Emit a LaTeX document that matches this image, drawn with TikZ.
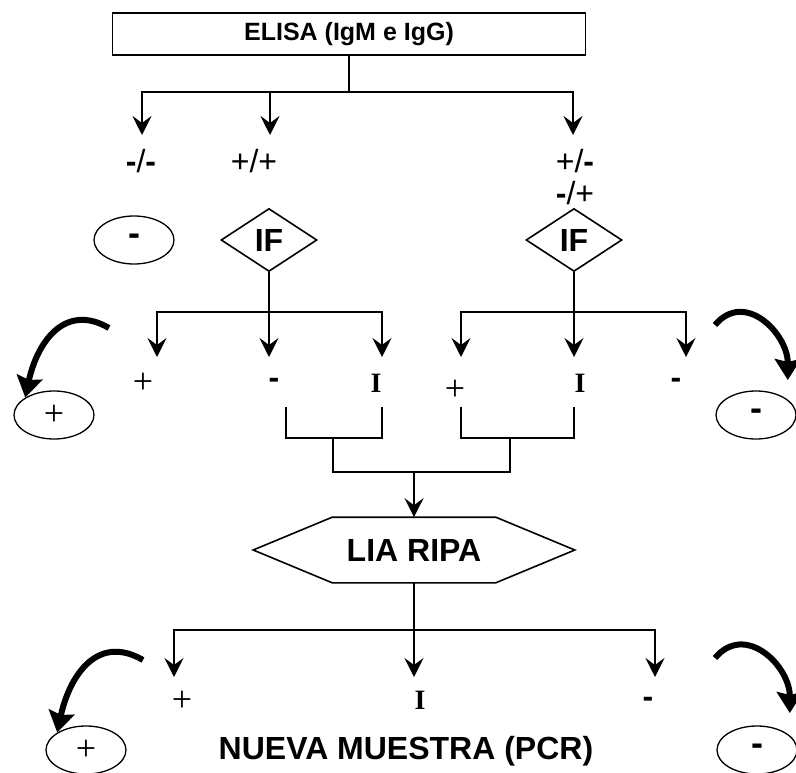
\documentclass[tikz,border=0pt]{standalone}
\usepackage{fontspec}
\setmainfont{Liberation Sans}
\newfontfamily\tnr{Liberation Serif}
\usetikzlibrary{arrows.meta,shapes.geometric}

\begin{document}
\begin{tikzpicture}[x=1pt,y=1pt,>={Stealth[length=19pt,width=19pt,inset=7pt]},
                    line width=1.6pt,
    box/.style={rectangle,draw,minimum width=473pt,minimum height=42pt,
                font=\fontsize{25}{25}\selectfont\bfseries},
    test/.style={diamond,draw,aspect=1.5,minimum width=96pt,minimum height=63pt,
                 inner sep=0pt,font=\fontsize{32}{32}\selectfont\bfseries},
    res/.style={ellipse,draw,line width=1.3pt,minimum width=80pt,minimum height=48pt,
                inner sep=0pt,font=\tnr\fontsize{36}{36}\selectfont},
    sero/.style={font=\fontsize{32}{32}\selectfont,align=center,inner sep=0pt},
    val/.style={font=\tnr\fontsize{28}{28}\selectfont,inner sep=0pt},
    pls/.style={font=\tnr\fontsize{36}{36}\selectfont,inner sep=0pt},
    mns/.style={font=\fontsize{32}{32}\selectfont\bfseries,inner sep=0pt},
    big/.style={font=\fontsize{32}{32}\selectfont\bfseries,inner sep=0pt},
    bigarrow/.style={line width=6pt,-{Stealth[length=21pt,width=26pt,inset=3pt]}}]
  \useasboundingbox (0,0) rectangle (796,-773);

  % ELISA and serology
  \node[box] (elisa) at (349,-34) {ELISA (IgM e IgG)};
  \node[sero] (mm) at (141,-161) {\textbf{-}/\textbf{-}};
  \node[sero] (pp) at (254,-161) {+/+};
  \node[sero] (pm) at (575,-177) {+/\textbf{-}\\\textbf{-}/+};
  \node[res] (neg1) at (134,-240) {\textbf{\rmfamily -}};
  \node[test] (if1) at (269,-240) {IF};
  \node[test] (if2) at (574,-240) {IF};

  \coordinate (j1) at (349,-92);
  \coordinate (t1) at (142,-135);
  \coordinate (t2) at (270,-135);
  \coordinate (t3) at (573,-135);
  \draw (elisa.south) -- (j1);
  \draw[->] (j1) -| (t1);
  \draw[->] (j1) -| (t2);
  \draw[->] (j1) -| (t3);

  % IF results
  \node[pls] (p1) at (143,-383) {+};
  \node[mns] (n1) at (274,-383) {-};
  \node[val] (i1) at (376,-383) {\textbf{I}};
  \node[pls] (p2) at (455,-390) {+};
  \node[val] (i2) at (580,-383) {\textbf{I}};
  \node[mns] (n2) at (676,-383) {-};
  \node[res] (pos1) at (54,-415) {+};
  \node[res] (neg2) at (756,-415) {\textbf{\rmfamily -}};

  \coordinate (j2) at (269,-312);
  \coordinate (j3) at (574,-312);
  \coordinate (t4) at (157,-357);
  \coordinate (t5) at (269,-357);
  \coordinate (t6) at (382,-357);
  \coordinate (t7) at (461,-357);
  \coordinate (t8) at (574,-357);
  \coordinate (t9) at (686,-357);
  \draw (if1.south) -- (j2);
  \draw[->] (j2) -| (t4);
  \draw[->] (j2) -- (t5);
  \draw[->] (j2) -| (t6);
  \draw (if2.south) -- (j3);
  \draw[->] (j3) -| (t7);
  \draw[->] (j3) -- (t8);
  \draw[->] (j3) -| (t9);

  \coordinate (c1) at (109,-328);
  \coordinate (c2) at (715,-325);
  \draw[bigarrow] (c1) to[out=150,in=78,looseness=1.25] (pos1.north west);
  \draw[bigarrow] (c2) to[out=50,in=90,looseness=1.3] ([shift={(8pt,15pt)}]neg2.40);

  % indeterminate ones go to LIA
  \coordinate (k1) at (286,-407);
  \coordinate (k2) at (382,-407);
  \coordinate (k3) at (461,-407);
  \coordinate (k4) at (574,-407);
  \coordinate (j4) at (414,-472);
  \draw (k1) |- (k2 |- 0,-438) -- (k2);
  \draw (k3) |- (k4 |- 0,-438) -- (k4);
  \draw (333,-438) |- (510,-472) -- (510,-438);

  \node[big,minimum width=162pt,minimum height=64pt] (lia) at (414,-550) {LIA RIPA};
  \draw (lia.north west) -- (lia.north east) -- ([xshift=79pt]lia.east)
        -- (lia.south east) -- (lia.south west) -- ([xshift=-79pt]lia.west) -- cycle;
  \draw[->] (j4) -- (lia.north);

  % LIA results
  \node[pls] (p3) at (182,-701) {+};
  \node[val] (i3) at (420,-700) {\textbf{I}};
  \node[mns] (n3) at (648,-702) {-};
  \node[big] (pcr) at (406,-751) {NUEVA MUESTRA (PCR)};
  \node[res] (pos2) at (86,-750) {+};
  \node[res] (neg3) at (757,-750) {\textbf{\rmfamily -}};

  \coordinate (j5) at (414,-630);
  \coordinate (t10) at (174,-677);
  \coordinate (t11) at (414,-677);
  \coordinate (t12) at (655,-677);
  \draw (lia.south) -- (j5);
  \draw[->] (j5) -| (t10);
  \draw[->] (j5) -- (t11);
  \draw[->] (j5) -| (t12);

  \coordinate (c3) at (143,-660);
  \coordinate (c4) at (715,-658);
  \draw[bigarrow] (c3) to[out=150,in=78,looseness=1.25] (pos2.north west);
  \draw[bigarrow] (c4) to[out=50,in=90,looseness=1.3] ([shift={(9pt,17pt)}]neg3.40);
\end{tikzpicture}
\end{document}
